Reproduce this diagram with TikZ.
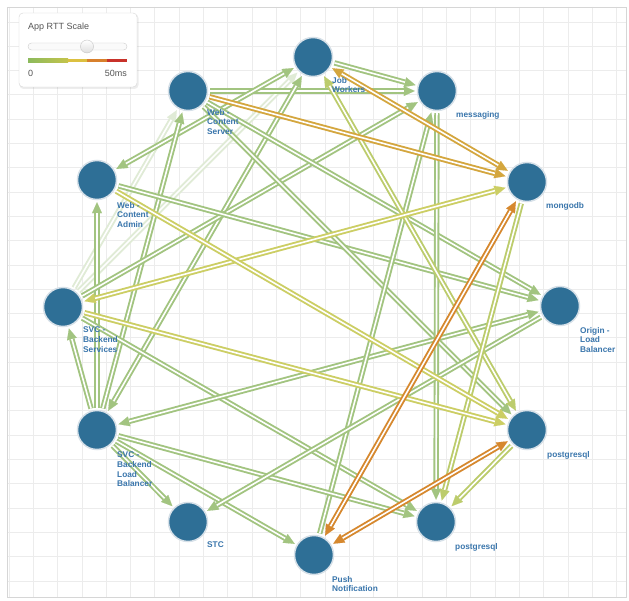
\documentclass[tikz,border=0pt]{standalone}
\usepackage{fontspec}
\setmainfont{Liberation Sans}
\usetikzlibrary{arrows.meta}

% palette
\definecolor{edgeG}{RGB}{162,196,128}
\definecolor{edgeY}{RGB}{204,206,100}
\definecolor{edgeL}{RGB}{188,204,108}
\definecolor{edgeA}{RGB}{212,166,62}
\definecolor{edgeO}{RGB}{214,136,46}
\definecolor{edgeF}{RGB}{224,235,214}
\definecolor{hostblue}{RGB}{46,111,150}
\definecolor{ringgray}{RGB}{214,224,232}
\definecolor{labelblue}{RGB}{58,118,172}
\definecolor{gridgray}{RGB}{236,236,236}
\definecolor{framegray}{RGB}{214,214,214}
\definecolor{legendtext}{RGB}{85,85,85}
\definecolor{barG}{RGB}{140,186,92}
\definecolor{barGY}{RGB}{196,196,76}
\definecolor{barY}{RGB}{220,192,64}
\definecolor{barO}{RGB}{216,128,44}
\definecolor{barR}{RGB}{200,50,42}

\pgfdeclarelayer{gridlayer}
\pgfdeclarelayer{edgelayer}
\pgfsetlayers{gridlayer,edgelayer,main}

\tikzset{
  host/.style={circle, fill=hostblue, draw=ringgray, line width=1.5pt,
    minimum size=39pt, inner sep=0pt},
  hostlabel/.style={anchor=north west, inner sep=0pt, align=left,
    text=labelblue, font=\bfseries\fontsize{8.3}{9.6}\selectfont},
  wire/.style={line width=5.4pt, shorten >=2pt, shorten <=2pt},
  core/.style={draw=white, line width=1.6pt},
  tipE/.style={-{Triangle[length=11pt,width=10pt,line width=0.1pt]}},
  tipB/.style={{Triangle[length=11pt,width=10pt,line width=0.1pt]}-{Triangle[length=11pt,width=10pt,line width=0.1pt]}},
  coreE/.style={shorten >=13pt, shorten <=2pt},
  coreB/.style={shorten >=13pt, shorten <=13pt},
  gridline/.style={draw=gridgray, line width=0.8pt},
  legendfont/.style={text=legendtext, font=\fontsize{9}{10}\selectfont, inner sep=0pt},
}

% a double-stroked connector: colour, tips (E = one end, B = both ends), from, to
\newcommand\link[4]{%
  \draw[wire, draw=#1, fill=#1, tip#2] (#3) -- (#4);
  \draw[core, core#2] (#3) -- (#4);
}

\begin{document}
\begin{tikzpicture}[x=1pt, y=-1pt]
\useasboundingbox (0,0) rectangle (629,601);

% panel and grid
\begin{pgfonlayer}{gridlayer}
  \fill[white] (0,0) rectangle (629,601);
  \foreach \i in {0,...,25} \draw[gridline] ({9+24.3*\i},7) -- ({9+24.3*\i},597);
  \foreach \j in {0,...,23} \draw[gridline] (7,{22+24.3*\j}) -- (626,{22+24.3*\j});
  \draw[framegray, line width=0.8pt] (7,7) rectangle (626,597);
\end{pgfonlayer}

% hosts
\node[host] (JW)  at (313,57)  {};
\node[host] (MSG) at (437,91)  {};
\node[host] (MDB) at (527,182) {};
\node[host] (OLB) at (560,306) {};
\node[host] (PGa) at (527,430) {};
\node[host] (PGb) at (436,522) {};
\node[host] (PN)  at (314,555) {};
\node[host] (STC) at (188,522) {};
\node[host] (SBL) at (97,430)  {};
\node[host] (SBS) at (63,307)  {};
\node[host] (WCA) at (97,180)  {};
\node[host] (WCS) at (188,91)  {};

% host names
\node[hostlabel] (lJW)  at ([shift={(19,20)}]JW.center)  {Job\\Workers};
\node[hostlabel] (lMSG) at ([shift={(19,20)}]MSG.center) {messaging};
\node[hostlabel] (lMDB) at ([shift={(19,20)}]MDB.center) {mongodb};
\node[hostlabel] (lOLB) at ([shift={(20,21)}]OLB.center) {Origin -\\Load\\Balancer};
\node[hostlabel] (lPGa) at ([shift={(20,21)}]PGa.center) {postgresql};
\node[hostlabel] (lPGb) at ([shift={(19,21)}]PGb.center) {postgresql};
\node[hostlabel] (lPN)  at ([shift={(18,21)}]PN.center)  {Push\\Notification};
\node[hostlabel] (lSTC) at ([shift={(19,20)}]STC.center) {STC};
\node[hostlabel] (lSBL) at ([shift={(20,22)}]SBL.center) {SVC -\\Backend\\Load\\Balancer};
\node[hostlabel] (lSBS) at ([shift={(20,20)}]SBS.center) {SVC -\\Backend\\Services};
\node[hostlabel] (lWCA) at ([shift={(20,22)}]WCA.center) {Web -\\Content\\Admin};
\node[hostlabel] (lWCS) at ([shift={(19,18)}]WCS.center) {Web -\\Content\\Server};

% connectors
\begin{pgfonlayer}{edgelayer}
  \link{edgeF}{E}{SBS}{WCS}
  \link{edgeF}{E}{SBS}{JW}
  \link{edgeG}{E}{WCS}{MSG}
  \link{edgeG}{E}{JW}{MSG}
  \link{edgeG}{B}{WCA}{JW}
  \link{edgeG}{E}{SBL}{WCA}
  \link{edgeG}{E}{SBL}{SBS}
  \link{edgeG}{E}{SBL}{WCS}
  \link{edgeG}{B}{SBL}{JW}
  \link{edgeG}{E}{SBS}{MSG}
  \link{edgeG}{E}{SBS}{PGb}
  \link{edgeG}{E}{WCA}{OLB}
  \link{edgeG}{E}{WCS}{OLB}
  \link{edgeG}{E}{WCS}{PGa}
  \link{edgeG}{B}{OLB}{SBL}
  \link{edgeG}{E}{MSG}{PGb}
  \link{edgeG}{E}{PN}{MSG}
  \link{edgeG}{E}{SBL}{STC}
  \link{edgeG}{E}{SBL}{PN}
  \link{edgeG}{E}{SBL}{PGb}
  \link{edgeG}{E}{OLB}{STC}
  \link{edgeL}{B}{JW}{PGa}
  \link{edgeL}{E}{PGa}{PGb}
  \link{edgeL}{E}{MDB}{PGb}
  \link{edgeY}{B}{SBS}{MDB}
  \link{edgeY}{E}{SBS}{PGa}
  \link{edgeY}{E}{WCA}{PGa}
  \link{edgeA}{E}{WCS}{MDB}
  \link{edgeA}{B}{JW}{MDB}
  \link{edgeO}{B}{PN}{MDB}
  \link{edgeO}{B}{PGa}{PN}
\end{pgfonlayer}

% legend
\fill[black, opacity=0.07, rounded corners=4pt] (19.5,14) rectangle (138.5,89);
\draw[framegray, fill=white, rounded corners=4pt] (19,13) rectangle (137,87);
\node[legendfont, anchor=west] (ltitle) at (28,27) {App RTT Scale};
\draw[draw={rgb,255:red,206;green,206;blue,206}, fill={rgb,255:red,250;green,250;blue,250},
      rounded corners=3.5pt] (28,43) rectangle (127,50);
\draw[draw={rgb,255:red,196;green,196;blue,196}, top color=white,
      bottom color={rgb,255:red,222;green,222;blue,222}] (87,46.5) circle[radius=6.5pt];
\shade[left color=barG, right color=barGY] (28,59) rectangle (68,62.5);
\fill[barY] (68,59) rectangle (87,62.5);
\fill[barO] (87,59) rectangle (107,62.5);
\fill[barR] (107,59) rectangle (127,62.5);
\node[legendfont, anchor=west] (lzero) at (28,73) {0};
\node[legendfont, anchor=east] (lmax) at (127,73) {50ms};
\end{tikzpicture}
\end{document}
